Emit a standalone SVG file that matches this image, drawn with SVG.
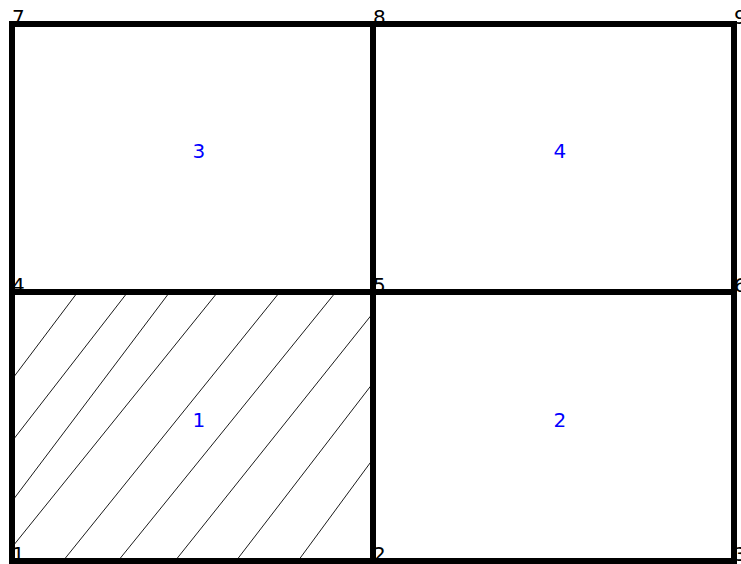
<svg xmlns="http://www.w3.org/2000/svg" width="741" height="564" viewBox="0 0 741 564">
  <style>
    .cell { fill: none; stroke: #000; stroke-width: 6; stroke-linejoin: miter; }
    .hatch { stroke: #000; stroke-width: 0.9; fill: none; }
    .nlab { font-family: "DejaVu Sans", sans-serif; font-size: 20px; fill: #000; }
    .elab { font-family: "DejaVu Sans", sans-serif; font-size: 20px; fill: #0000ff; }
  </style>
  <rect x="0" y="0" width="741" height="564" fill="#fff"/>
  <g id="hatching">
    <line class="hatch" x1="13" y1="378" x2="77" y2="293"/>
    <line class="hatch" x1="13" y1="440" x2="127" y2="293"/>
    <line class="hatch" x1="13" y1="500" x2="169" y2="293"/>
    <line class="hatch" x1="13" y1="546" x2="217" y2="293"/>
    <line class="hatch" x1="63" y1="561" x2="279" y2="293"/>
    <line class="hatch" x1="118" y1="561" x2="335" y2="293"/>
    <line class="hatch" x1="175" y1="561" x2="373" y2="313"/>
    <line class="hatch" x1="236" y1="561" x2="373" y2="383"/>
    <line class="hatch" x1="298" y1="561" x2="373" y2="459"/>
  </g>
  <g id="element-1">
    <rect class="cell" x="12" y="292" width="361" height="269"/>
    <text class="elab" x="192.5" y="426.5">1</text>
  </g>
  <g id="element-2">
    <rect class="cell" x="373" y="292" width="361" height="269"/>
    <text class="elab" x="553.5" y="426.5">2</text>
  </g>
  <g id="element-3">
    <rect class="cell" x="12" y="24" width="361" height="268"/>
    <text class="elab" x="192.5" y="158">3</text>
  </g>
  <g id="element-4">
    <rect class="cell" x="373" y="24" width="361" height="268"/>
    <text class="elab" x="553.5" y="158">4</text>
  </g>
  <g id="node-1"><text class="nlab" x="12" y="561">1</text></g>
  <g id="node-2"><text class="nlab" x="373" y="561">2</text></g>
  <g id="node-3"><text class="nlab" x="734" y="561">3</text></g>
  <g id="node-4"><text class="nlab" x="12" y="292">4</text></g>
  <g id="node-5"><text class="nlab" x="373" y="292">5</text></g>
  <g id="node-6"><text class="nlab" x="734" y="292">6</text></g>
  <g id="node-7"><text class="nlab" x="12" y="24">7</text></g>
  <g id="node-8"><text class="nlab" x="373" y="24">8</text></g>
  <g id="node-9"><text class="nlab" x="734" y="24">9</text></g>
</svg>
